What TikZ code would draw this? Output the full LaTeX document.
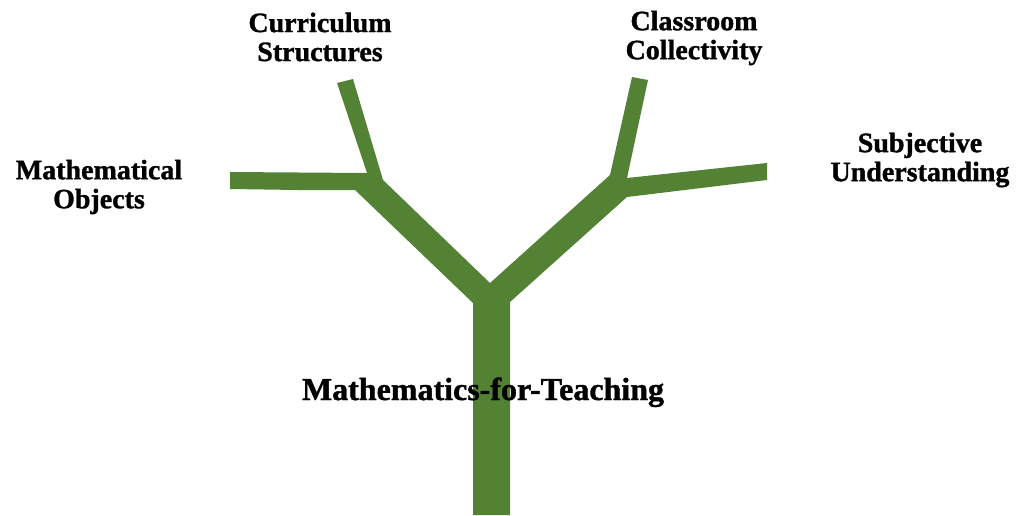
\documentclass[tikz,border=0pt]{standalone}
\usepackage{fontspec}
\setmainfont{Liberation Serif}[BoldFeatures={FakeBold=1.2}]
\usetikzlibrary{positioning}
\definecolor{bark}{HTML}{548235}

\begin{document}
\begin{tikzpicture}[x=0.5pt,y=-0.5pt,
  leaf/.style={font=\bfseries\fontsize{14}{14.5}\selectfont,align=center,inner sep=0pt}]
\useasboundingbox (0,0) rectangle (1018,515);

% Tree outline, from the foot of the trunk round the crown.
\fill[bark] (473,515) -- (473,303) -- (355,190) -- (298,190) -- (230,189)
  -- (230,172) -- (367,173) -- (337,83) -- (353,79) -- (383,180)
  -- (490,283) -- (610,175) -- (632,77) -- (648,80) -- (627,178)
  -- (767,163) -- (767,180) -- (627,197) -- (510,302) -- (510,515) -- cycle;

% Labels.
\node[leaf] (curric) at (320,37) {Curriculum\\Structures};
\node[leaf] (class) at (694,38) {Classroom\\Collectivity};
\node[leaf] (objects) at (99,187) {Mathematical\\Objects};
\node[leaf] (subject) at (920,160) {Subjective\\Understanding};
\node[leaf,font=\bfseries\fontsize{16}{18}\selectfont,anchor=base] (mft) at (483,400) {Mathematics-for-Teaching};
\end{tikzpicture}
\end{document}
